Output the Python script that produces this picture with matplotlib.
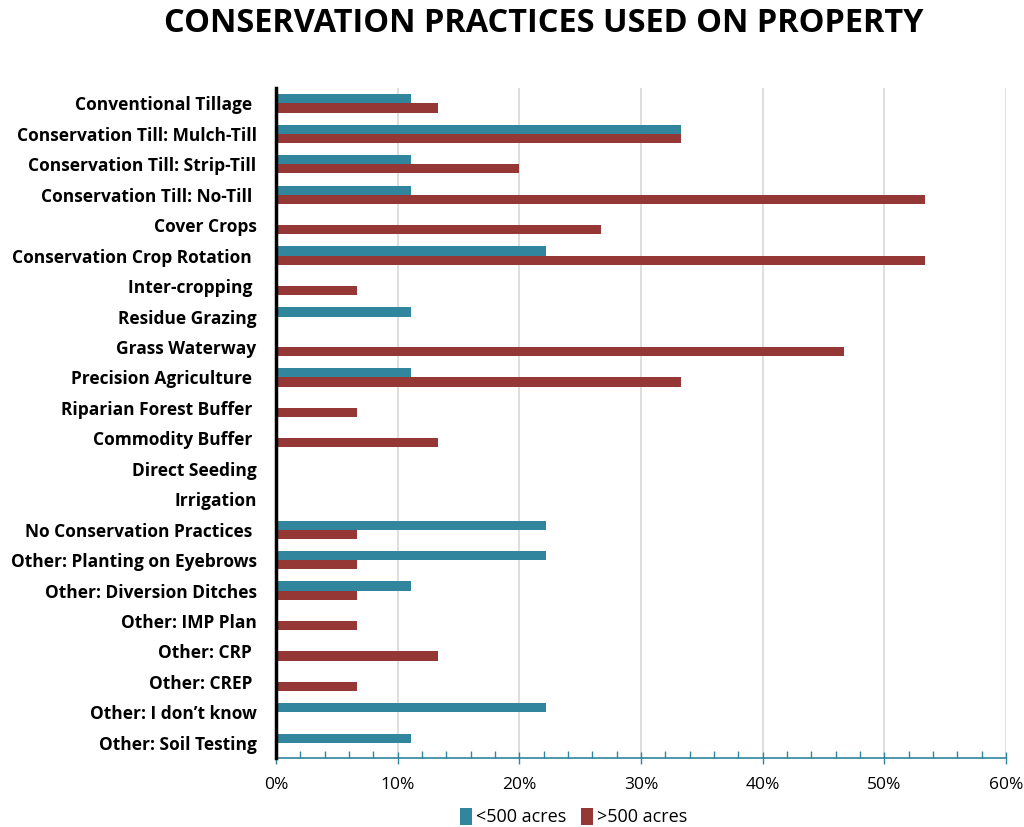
import numpy as np
import matplotlib.pyplot as plt
from matplotlib.ticker import MultipleLocator, PercentFormatter

plt.rcParams['font.family'] = ['Open Sans', 'DejaVu Sans']

practices = [
    "Conventional Tillage ",
    "Conservation Till: Mulch-Till",
    "Conservation Till: Strip-Till",
    "Conservation Till: No-Till ",
    "Cover Crops",
    "Conservation Crop Rotation ",
    "Inter-cropping ",
    "Residue Grazing",
    "Grass Waterway",
    "Precision Agriculture ",
    "Riparian Forest Buffer ",
    "Commodity Buffer ",
    "Direct Seeding",
    "Irrigation",
    "No Conservation Practices ",
    "Other: Planting on Eyebrows",
    "Other: Diversion Ditches",
    "Other: IMP Plan",
    "Other: CRP ",
    "Other: CREP ",
    "Other: I don\u2019t know",
    "Other: Soil Testing",
]

# share of respondents (%) by farm size
small_farms = [11.1, 33.3, 11.1, 11.1, 0, 22.2, 0, 11.1, 0, 11.1, 0,
               0, 0, 0, 22.2, 22.2, 11.1, 0, 0, 0, 22.2, 11.1]
large_farms = [13.3, 33.3, 20.0, 53.3, 26.7, 53.3, 6.7, 0, 46.7, 33.3, 6.7,
               13.3, 0, 0, 6.7, 6.7, 6.7, 6.7, 13.3, 6.7, 0, 0]

teal = "#31859c"
brick = "#953735"

fig = plt.figure(figsize=(10.24, 8.27), dpi=100)
ax = fig.add_axes([0.2695, 0.0834, 0.713, 0.810])

y = np.arange(len(practices))
h = 0.3
ax.barh(y - h / 2, small_farms, height=h, color=teal, label="<500 acres", zorder=3)
ax.barh(y + h / 2, large_farms, height=h, color=brick, label=">500 acres", zorder=3)

ax.set_xlim(0, 60)
ax.set_ylim(len(practices) - 0.5, -0.5)
ax.set_yticks(y)
ax.set_yticklabels(practices, fontsize=12.5, fontweight="bold")
ax.tick_params(axis="y", length=0, pad=14)

ax.xaxis.set_major_locator(MultipleLocator(10))
ax.xaxis.set_minor_locator(MultipleLocator(2))
ax.xaxis.set_major_formatter(PercentFormatter(decimals=0))
ax.tick_params(axis="x", which="major", direction="inout", length=9, width=1,
               color=teal, labelsize=12.5, pad=9)
ax.tick_params(axis="x", which="minor", direction="in", length=5, width=1, color=teal)
ax.grid(axis="x", color="#d9d9d9", linewidth=1.2, zorder=0)

for side in ("top", "right"):
    ax.spines[side].set_visible(False)
ax.spines["left"].set_color("black")
ax.spines["left"].set_linewidth(2.5)
ax.spines["left"].set_zorder(4)
ax.spines["bottom"].set_color(teal)
ax.spines["bottom"].set_linewidth(1.2)

fig.text(0.531, 0.972, "CONSERVATION PRACTICES USED ON PROPERTY", ha="center", va="center",
         fontsize=23.4, fontweight="bold")

fig.legend(loc="center", bbox_to_anchor=(0.56, 0.012), ncol=2, frameon=False,
           fontsize=13, handlelength=0.7, handleheight=1.1, handletextpad=0.2,
           columnspacing=0.8)

fig.savefig("out.png", dpi=100)
